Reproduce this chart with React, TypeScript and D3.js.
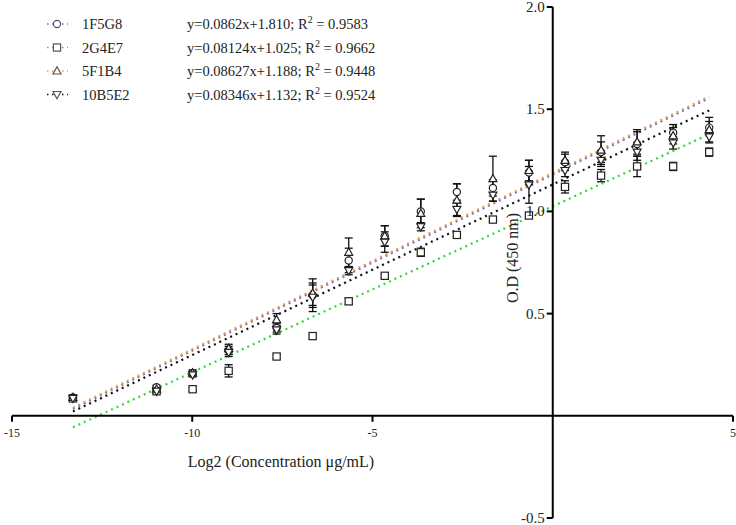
import * as d3 from 'd3'

const WIDTH = 736
const HEIGHT = 525

const concentrations = [-13.31, -10.99, -9.99, -8.99, -7.66, -6.66, -5.66, -4.66, -3.66, -2.66, -1.66, -0.66, 0.34, 1.34, 2.34, 3.34, 4.34]

const seriesNames = ['1F5G8', '2G4E7', '5F1B4', '10B5E2']
const equations = [
  ['y=0.0862x+1.810; R', ' = 0.9583'],
  ['y=0.08124x+1.025; R', ' = 0.9662'],
  ['y=0.08627x+1.188; R', ' = 0.9448'],
  ['y=0.08346x+1.132; R', ' = 0.9524'],
]

const od1F5G8 = [0.09, 0.14, 0.21, 0.32, 0.43, 0.59, 0.76, 0.88, 1.0, 1.095, 1.115, 1.19, 1.24, 1.29, 1.33, 1.385, 1.41]
const od2G4E7 = [0.085, 0.12, 0.13, 0.22, 0.29, 0.39, 0.56, 0.685, 0.8, 0.885, 0.96, 0.98, 1.12, 1.175, 1.22, 1.22, 1.29]
const od5F1B4 = [0.09, 0.13, 0.21, 0.33, 0.47, 0.6, 0.8, 0.88, 0.99, 1.055, 1.16, 1.2, 1.25, 1.3, 1.34, 1.37, 1.4]
const od10B5E2 = [0.085, 0.12, 0.2, 0.31, 0.42, 0.58, 0.71, 0.85, 0.925, 1.01, 1.08, 1.13, 1.2, 1.25, 1.29, 1.335, 1.365]

const sd1F5G8 = [0.01, 0.01, 0.015, 0.02, 0.02, 0.05, 0.06, 0.05, 0.06, 0.04, 0.04, 0.06, 0.04, 0.05, 0.06, 0.04, 0.03]
const sd2G4E7 = [0.01, 0.01, 0.01, 0.03, 0.01, 0.01, 0.015, 0.01, 0.02, 0.01, 0.01, 0.01, 0.03, 0.03, 0.05, 0.02, 0.02]
const sd5F1B4 = [0.01, 0.01, 0.01, 0.02, 0.03, 0.07, 0.07, 0.05, 0.07, 0.08, 0.11, 0.05, 0.04, 0.07, 0.06, 0.04, 0.06]
const sd10B5E2 = [0.01, 0.01, 0.01, 0.02, 0.02, 0.07, 0.02, 0.05, 0.02, 0.03, 0.03, 0.09, 0.03, 0.03, 0.04, 0.03, 0.03]

// fitted lines as drawn (slope, intercept)
const fitSlopes = [0.0862, 0.08124, 0.08627, 0.08346]
const fitIntercepts = [1.181, 1.025, 1.188, 1.132]
const fitRange = [-13.31, 4.34]

const xTicks = [-15, -10, -5, 5]
const yTicks = [-0.5, 0.5, 1.0, 1.5, 2.0]

const lineColors = ['#6b6bd6', '#33d633', '#e0a048', '#111111']
const shapes = ['circle', 'square', 'triangleUp', 'triangleDown']

const FONT = "'Liberation Serif', 'DejaVu Serif', serif"

function Marker({ shape, x, y, stroke = '#222' }: { shape: string; x: number; y: number; stroke?: string }) {
  const s = 3.6
  if (shape === 'circle') {
    return <circle cx={x} cy={y} r={s} fill="#fff" stroke={stroke} strokeWidth={1.2} />
  }
  if (shape === 'square') {
    return <rect x={x - s} y={y - s} width={s * 2} height={s * 2} fill="#fff" stroke={stroke} strokeWidth={1.2} />
  }
  if (shape === 'triangleUp') {
    return <path d={`M${x},${y - s - 0.6}L${x + s + 0.4},${y + s - 0.6}L${x - s - 0.4},${y + s - 0.6}Z`} fill="#fff" stroke={stroke} strokeWidth={1.2} />
  }
  return <path d={`M${x},${y + s + 0.6}L${x + s + 0.4},${y - s + 0.6}L${x - s - 0.4},${y - s + 0.6}Z`} fill="#fff" stroke={stroke} strokeWidth={1.2} />
}

export default function App() {
  const x = d3.scaleLinear().domain([-15, 5]).range([12, 733])
  const y = d3.scaleLinear().domain([-0.5, 2]).range([518, 7])

  const means = [od1F5G8, od2G4E7, od5F1B4, od10B5E2]
  const sds = [sd1F5G8, sd2G4E7, sd5F1B4, sd10B5E2]

  const line = d3
    .line<number[]>()
    .x((d) => x(d[0]))
    .y((d) => y(d[1]))

  const x0 = x(0)
  const y0 = y(0)
  const textStyle = { fontFamily: FONT }

  return (
    <svg
      width={WIDTH}
      height={HEIGHT}
      style={{ position: 'absolute', left: 0, top: 0, background: '#fff', fontFamily: FONT }}
    >
      {/* regression lines */}
      {fitSlopes.map((slope, i) => (
        <path
          key={`fit-${i}`}
          d={line(fitRange.map((v) => [v, slope * v + fitIntercepts[i]])) ?? ''}
          fill="none"
          stroke={lineColors[i]}
          strokeWidth={2.2}
          strokeDasharray="2 4"
        />
      ))}

      {/* error bars */}
      {means.map((series, i) =>
        series.map((m, j) => {
          const cx = x(concentrations[j])
          const top = y(m + sds[i][j])
          const bottom = y(m - sds[i][j])
          return (
            <g key={`err-${i}-${j}`} stroke="#111" strokeWidth={1.3}>
              <line x1={cx} x2={cx} y1={top} y2={bottom} />
              <line x1={cx - 4} x2={cx + 4} y1={top} y2={top} />
              <line x1={cx - 4} x2={cx + 4} y1={bottom} y2={bottom} />
            </g>
          )
        }),
      )}

      {/* markers */}
      {means.map((series, i) =>
        series.map((m, j) => (
          <Marker key={`pt-${i}-${j}`} shape={shapes[i]} x={x(concentrations[j])} y={y(m)} />
        )),
      )}

      {/* x axis */}
      <line x1={x(-15)} x2={x(5)} y1={y0} y2={y0} stroke="#000" strokeWidth={2} />
      {xTicks.map((t) => (
        <g key={`xt-${t}`}>
          <line x1={x(t)} x2={x(t)} y1={y0} y2={y0 + 6} stroke="#000" strokeWidth={2} />
          <text x={x(t)} y={y0 + 21} textAnchor="middle" fontSize={12} fill="#222" style={textStyle}>
            {t}
          </text>
        </g>
      ))}

      {/* y axis */}
      <line x1={x0} x2={x0} y1={y(2)} y2={y(-0.5)} stroke="#000" strokeWidth={2} />
      {yTicks.map((t) => (
        <g key={`yt-${t}`}>
          <line x1={x0 - 6} x2={x0} y1={y(t)} y2={y(t)} stroke="#000" strokeWidth={2} />
          <text x={x0 - 8} y={y(t) + 5} textAnchor="end" fontSize={15} fill="#222" style={textStyle}>
            {t.toFixed(1)}
          </text>
        </g>
      ))}

      <text x={281} y={467} textAnchor="middle" fontSize={16} fill="#222" style={textStyle}>
        Log2 (Concentration μg/mL)
      </text>
      <text
        transform={`translate(518,258) rotate(-90)`}
        textAnchor="middle"
        fontSize={16}
        fill="#222"
        style={textStyle}
      >
        O.D (450 nm)
      </text>

      {/* legend */}
      {seriesNames.map((name, i) => {
        const ly = 24 + i * 23.5
        return (
          <g key={`lg-${name}`}>
            <line x1={47} x2={68} y1={ly} y2={ly} stroke={lineColors[i]} strokeWidth={1.6} strokeDasharray="1.5 3.5" />
            <Marker shape={shapes[i]} x={57} y={ly} stroke="#555" />
            <text x={82} y={ly + 5} fontSize={14.5} fill="#222" style={textStyle}>
              {name}
            </text>
            <text x={187} y={ly + 5} fontSize={14.5} fill="#222" style={textStyle}>
              {equations[i][0]}
              <tspan dy={-6} fontSize={10}>2</tspan>
              <tspan dy={6}>{equations[i][1]}</tspan>
            </text>
          </g>
        )
      })}
    </svg>
  )
}
